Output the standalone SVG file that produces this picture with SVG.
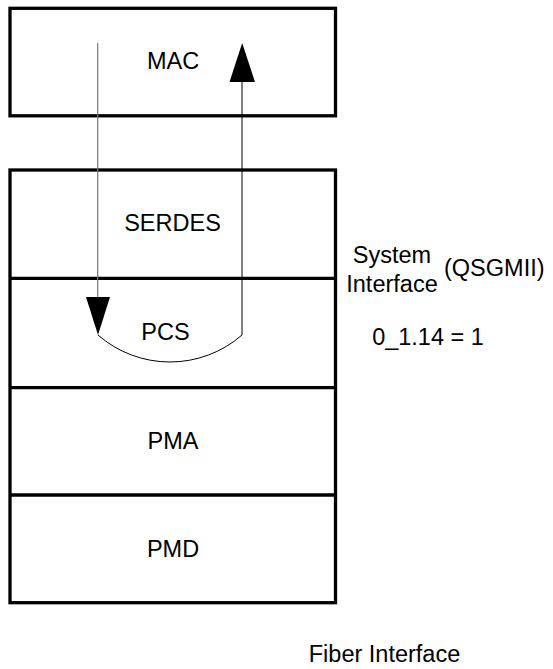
<svg xmlns="http://www.w3.org/2000/svg" width="553" height="669" viewBox="0 0 553 669">
<style>
.box{fill:#fff;stroke:#000;stroke-width:3.3}
.sep{stroke:#000;stroke-width:3.3;fill:none}
.lbl{font-family:"Liberation Sans",Arial,sans-serif;font-size:23.5px;fill:#000}
.mid{text-anchor:middle}
.wire{fill:none;stroke:#000;stroke-width:1}
.head{fill:#000;stroke:none}
</style>
<rect width="553" height="669" fill="#fff"/>
<g id="mac">
<rect class="box" x="10" y="8.3" width="325.5" height="107.5"/>
<text class="lbl mid" x="173" y="69.3">MAC</text>
</g>
<g id="stack">
<rect class="box" x="10" y="170" width="325.5" height="432.7"/>
</g>
<g id="serdes">
<text class="lbl mid" x="172.5" y="231">SERDES</text>
</g>
<g id="pcs">
<line class="sep" x1="10" y1="278.3" x2="335.5" y2="278.3"/>
<text class="lbl mid" x="165.5" y="339.5">PCS</text>
</g>
<g id="pma">
<line class="sep" x1="10" y1="387.7" x2="335.5" y2="387.7"/>
<text class="lbl mid" x="173" y="448.5">PMA</text>
</g>
<g id="pmd">
<line class="sep" x1="10" y1="495" x2="335.5" y2="495"/>
<text class="lbl mid" x="173" y="557">PMD</text>
</g>
<g id="connectors">
<line x1="97.7" y1="43" x2="97.7" y2="298" stroke="#777" stroke-width="1.2"/>
<polygon class="head" points="86,297 110,297 98,335"/>
<path class="wire" d="M98,335 A109.5,109.5 0 0 0 242,335 L242,82"/>
<polygon class="head" points="229.5,82 255,82 242.2,43"/>
</g>
<g id="labels">
<text class="lbl mid" x="392" y="263">System</text>
<text class="lbl mid" x="392" y="292">Interface</text>
<text class="lbl" x="444" y="275.5">(QSGMII)</text>
<text class="lbl mid" x="428" y="345">0_1.14 = 1</text>
<text class="lbl mid" x="384.5" y="662">Fiber Interface</text>
</g>
</svg>
